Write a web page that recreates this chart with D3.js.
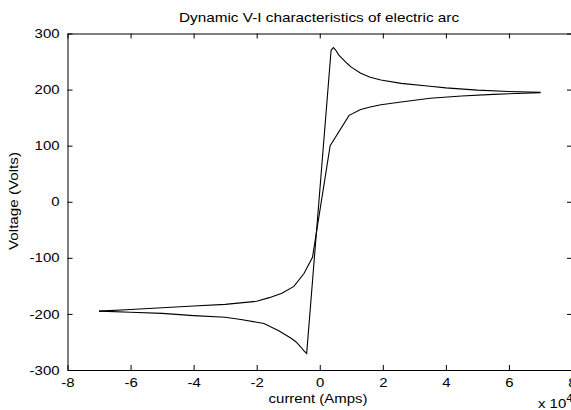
<!DOCTYPE html>
<html>
<head>
<meta charset="utf-8">
<script src="https://cdn.jsdelivr.net/npm/d3@7"></script>
<style>
  html, body { margin: 0; padding: 0; background: #fff; }
  svg { display: block; overflow: hidden; }
  text { font-family: Arial, "Liberation Sans", Helvetica, sans-serif; fill: #000; }
</style>
</head>
<body>
<svg id="chart" width="571" height="410"></svg>
<script>
// current in units of 1e4 A, voltage in V
const xTicks = [-8, -6, -4, -2, 0, 2, 4, 6, 8];
const yTicks = [-300, -200, -100, 0, 100, 200, 300];

// branch going right: inner upper-left then lower-right
const riseCurrent = [-7, -6, -5, -4, -3, -2, -1.6, -1.2, -0.82, -0.5, -0.23, 0.33, 0.93, 1.3, 1.6, 1.94, 2.58, 3.5, 4.5, 5.5, 6.5, 7];
const riseVoltage = [-195, -192, -189, -186, -183, -177.5, -171, -163, -151, -128, -99, 100, 154, 164.5, 169, 173, 178, 184.5, 188.5, 191.5, 193.5, 194.5];

// branch going left: outer upper-right then lower-left
const fallCurrent = [7, 6, 5, 4, 3.5, 2.58, 1.94, 1.6, 1.3, 1.0, 0.88, 0.7, 0.6, 0.5, 0.43, 0.36, -0.415, -0.5, -0.6, -0.75, -0.92, -1.3, -1.77, -2.5, -3, -4, -5, -6, -7];
const fallVoltage = [195, 196.5, 199, 203, 206, 211, 217, 222, 229, 240, 246, 256, 262, 271, 275, 270, -270.5, -266, -259, -250, -243, -230, -217, -210, -206, -203, -199, -197, -195];

const svg = d3.select("#chart");
const plotLeft = 67.5, plotRight = 572, plotTop = 33.5, plotBottom = 370;
const stretch = 1.15; // matlab text renders a bit wide

const x = d3.scaleLinear().domain([-8, 8]).range([plotLeft, plotRight]);
const y = d3.scaleLinear().domain([-300, 300]).range([plotBottom, plotTop]);

// axes, ticks pointing inward like matlab
const axisStyle = g => {
  g.select(".domain").attr("stroke", "#000");
  g.selectAll(".tick line").attr("stroke", "#000");
  g.selectAll(".tick text").style("font-size", "13px");
};

svg.append("g")
  .attr("transform", `translate(0,${plotBottom})`)
  .call(d3.axisBottom(x).tickValues(xTicks).tickSizeInner(-5).tickSizeOuter(0).tickPadding(8).tickFormat(d => String(d)))
  .call(axisStyle)
  .call(g => g.selectAll(".tick text").attr("dy", "0.71em").attr("transform", `scale(${stretch},1)`));

svg.append("g")
  .attr("transform", `translate(0,${plotTop})`)
  .call(d3.axisTop(x).tickValues(xTicks).tickSizeInner(-5).tickSizeOuter(0).tickFormat(""))
  .call(axisStyle);

svg.append("g")
  .attr("transform", `translate(${plotLeft},0)`)
  .call(d3.axisLeft(y).tickValues(yTicks).tickSizeInner(-5).tickSizeOuter(0).tickPadding(8).tickFormat(d => String(d)))
  .call(axisStyle)
  .call(g => g.selectAll(".tick text").attr("x", -8 / stretch).attr("transform", `scale(${stretch},1)`));

svg.append("g")
  .attr("transform", `translate(${plotRight},0)`)
  .call(d3.axisRight(y).tickValues(yTicks).tickSizeInner(-5).tickSizeOuter(0).tickFormat(""))
  .call(axisStyle);

// curves
const line = d3.line()
  .x(d => x(d[0]))
  .y(d => y(d[1]));

const rise = riseCurrent.map((c, i) => [c, riseVoltage[i]]);
const fall = fallCurrent.map((c, i) => [c, fallVoltage[i]]);

[rise, fall].forEach(pts => {
  svg.append("path")
    .datum(pts)
    .attr("d", line)
    .attr("fill", "none")
    .attr("stroke", "#000")
    .attr("stroke-width", 1.1);
});

// labels
svg.append("text")
  .attr("transform", "translate(319,22) scale(1.18,1)")
  .attr("text-anchor", "middle")
  .style("font-size", "13px")
  .text("Dynamic V-I characteristics of electric arc");

svg.append("text")
  .attr("transform", `translate(318,403) scale(${stretch},1)`)
  .attr("text-anchor", "middle")
  .style("font-size", "13px")
  .text("current (Amps)");

svg.append("text")
  .attr("transform", `translate(17.5,201) rotate(-90) scale(1.17,1)`)
  .attr("text-anchor", "middle")
  .style("font-size", "13px")
  .text("Voltage (Volts)");

const mult = svg.append("text")
  .attr("transform", `translate(538,408) scale(${stretch},1)`)
  .style("font-size", "13px");
mult.append("tspan").text("x 10");
mult.append("tspan").attr("dy", -6).style("font-size", "10px").text("4");
</script>
</body>
</html>
